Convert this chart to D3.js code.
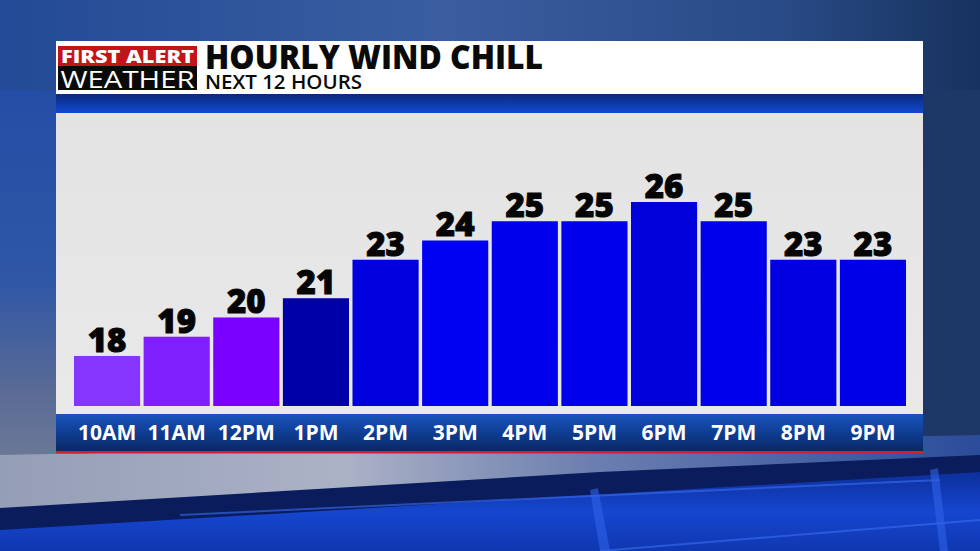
<!DOCTYPE html>
<html>
<head>
<meta charset="utf-8">
<script src="https://cdn.jsdelivr.net/npm/d3@7"></script>
<style>
  html, body { margin: 0; padding: 0; background: #1c3c78; }
  svg { display: block; }
</style>
</head>
<body>
<div id="chart"></div>
<script>
// chart values
var hours = ["10AM", "11AM", "12PM", "1PM", "2PM", "3PM", "4PM", "5PM", "6PM", "7PM", "8PM", "9PM"];
var windChill = [18, 19, 20, 21, 23, 24, 25, 25, 26, 25, 23, 23];
var barColors = ["#8535ff", "#7f1eff", "#7a00ff", "#0000a8", "#0000de", "#0000f2",
                 "#0000ec", "#0000ea", "#0000da", "#0000ea", "#0000e2", "#0000e8"];
var title = "HOURLY WIND CHILL";
var subtitle = "NEXT 12 HOURS";

var W = 980, H = 551;
var heavy = "'Open Sans', Lato, sans-serif";
var svg = d3.select("#chart").append("svg")
    .attr("width", W)
    .attr("height", H);
var defs = svg.append("defs");

function grad(id, x2, y2, stops) {
    var g = defs.append("linearGradient").attr("id", id)
        .attr("x1", 0).attr("y1", 0).attr("x2", x2).attr("y2", y2);
    stops.forEach(function(s) {
        g.append("stop").attr("offset", s[0]).attr("stop-color", s[1]);
    });
}
grad("bgTop", 1, 0, [[0, "#234a96"], [0.45, "#3a5ea0"], [0.8, "#284a86"], [1, "#17325e"]]);
grad("bgLeft", 0, 1, [[0, "#244ea6"], [0.5, "#2f57a6"], [0.8, "#5a6b95"], [1, "#6e7a98"]]);
grad("sweep", 1, 0, [[0, "#949eb6"], [0.35, "#acb2c6"], [0.6, "#6d7fb0"], [1, "#2b4c9a"]]);
grad("slab", 0, 1, [[0, "#0c2f9a"], [0.5, "#1646d0"], [1, "#0f37b0"]]);
grad("topBand", 0, 1, [[0, "#0b2a78"], [0.5, "#0d3aa8"], [1, "#1149d0"]]);
grad("labelBand", 0, 1, [[0, "#1a55bf"], [0.5, "#0f3d94"], [1, "#0a2863"]]);
grad("plotBg", 0, 1, [[0, "#e3e3e3"], [1, "#e9e9ea"]]);

// backdrop
var bg = svg.append("g");
bg.append("rect").attr("width", W).attr("height", H).attr("fill", "url(#bgTop)");
bg.append("rect").attr("x", 0).attr("y", 90).attr("width", 70).attr("height", 380).attr("fill", "url(#bgLeft)");
bg.append("rect").attr("x", 900).attr("y", 90).attr("width", 80).attr("height", 360).attr("fill", "#1d3766");
bg.append("path").attr("d", "M0,455 L980,435 L980,470 L0,522 Z").attr("fill", "url(#sweep)");
bg.append("path").attr("d", "M0,508 L600,472 L980,455 L980,480 L0,532 Z").attr("fill", "#0a1c5c");
bg.append("path").attr("d", "M0,530 L980,472 L980,551 L0,551 Z").attr("fill", "url(#slab)");
var slabs = [[180, 515, 500, 500], [500, 500, 940, 480], [600, 551, 980, 520]];
slabs.forEach(function(s) {
    bg.append("line").attr("x1", s[0]).attr("y1", s[1]).attr("x2", s[2]).attr("y2", s[3])
        .attr("stroke", "#3a6ef0").attr("stroke-width", 2).attr("opacity", 0.6);
});
bg.append("path").attr("d", "M590,490 L600,551 L610,551 L598,488 Z").attr("fill", "#2f63e8").attr("opacity", 0.6);
bg.append("path").attr("d", "M930,470 L940,551 L948,551 L938,468 Z").attr("fill", "#2f63e8").attr("opacity", 0.6);

// panel
var panelX = 56, panelW = 867;
svg.append("rect").attr("x", panelX).attr("y", 41).attr("width", panelW).attr("height", 53).attr("fill", "#ffffff");
svg.append("rect").attr("x", panelX).attr("y", 94).attr("width", panelW).attr("height", 19).attr("fill", "url(#topBand)");
svg.append("rect").attr("x", panelX).attr("y", 113).attr("width", panelW).attr("height", 301).attr("fill", "url(#plotBg)");
svg.append("rect").attr("x", panelX).attr("y", 414).attr("width", panelW).attr("height", 37).attr("fill", "url(#labelBand)");
svg.append("rect").attr("x", panelX).attr("y", 451).attr("width", panelW).attr("height", 2.5).attr("fill", "#d2202a");

// logo
var logo = svg.append("g");
logo.append("rect").attr("x", 57).attr("y", 45).attr("width", 141).attr("height", 46).attr("fill", "#ffffff");
logo.append("rect").attr("x", 58).attr("y", 46).attr("width", 139).attr("height", 20).attr("fill", "#c3141b");
logo.append("rect").attr("x", 58).attr("y", 66).attr("width", 139).attr("height", 24).attr("fill", "#0a0a0a");
logo.append("text").attr("x", 127.5).attr("y", 63).attr("text-anchor", "middle")
    .attr("font-family", heavy).attr("font-weight", 800)
    .attr("font-size", 18).attr("fill", "#fff")
    .attr("textLength", 133).attr("lengthAdjust", "spacingAndGlyphs")
    .text("FIRST ALERT");
logo.append("text").attr("x", 127.5).attr("y", 87.5).attr("text-anchor", "middle")
    .attr("font-family", heavy).attr("font-weight", 400)
    .attr("font-size", 24).attr("fill", "#fff")
    .attr("textLength", 134).attr("lengthAdjust", "spacingAndGlyphs")
    .text("WEATHER");

svg.append("text").attr("x", 205).attr("y", 69)
    .attr("font-family", heavy).attr("font-weight", 800)
    .attr("font-size", 33).attr("fill", "#0a0a0a")
    .attr("textLength", 338).attr("lengthAdjust", "spacingAndGlyphs")
    .text(title);
svg.append("text").attr("x", 205).attr("y", 89)
    .attr("font-family", heavy).attr("font-weight", 600)
    .attr("font-size", 19).attr("fill", "#0a0a0a")
    .attr("textLength", 157).attr("lengthAdjust", "spacingAndGlyphs")
    .text(subtitle);

// scales
var x = d3.scaleBand()
    .domain(hours)
    .range([72.25, 907.75])
    .paddingInner(0.05)
    .paddingOuter(0.025);
var y = d3.scaleLinear()
    .domain([15.4, 26])
    .range([406, 202]);

var rows = hours.map(function(h, i) { return {hour: h, value: windChill[i], color: barColors[i]}; });

var g = svg.append("g");
g.selectAll("rect.bar").data(rows).enter().append("rect")
    .attr("class", "bar")
    .attr("x", function(d) { return x(d.hour); })
    .attr("y", function(d) { return y(d.value); })
    .attr("width", x.bandwidth())
    .attr("height", function(d) { return y.range()[0] - y(d.value); })
    .attr("fill", function(d) { return d.color; });

g.selectAll("text.val").data(rows).enter().append("text")
    .attr("class", "val")
    .attr("x", function(d) { return x(d.hour) + x.bandwidth() / 2; })
    .attr("y", function(d) { return y(d.value) - 4; })
    .attr("text-anchor", "middle")
    .attr("font-family", heavy)
    .attr("font-weight", 800)
    .attr("font-size", 33)
    .attr("fill", "#050505")
    .attr("stroke", "#050505")
    .attr("stroke-width", 1)
    .text(function(d) { return d.value; });

// hour labels via axis
var axis = d3.axisBottom(x).tickSize(0).tickPadding(0);
var ax = svg.append("g").attr("transform", "translate(0,440)").call(axis);
ax.select(".domain").remove();
ax.selectAll("text")
    .attr("dy", 0)
    .attr("y", 0)
    .attr("font-family", heavy)
    .attr("font-weight", 700)
    .attr("font-size", 21)
    .attr("fill", "#ffffff");
</script>
</body>
</html>
